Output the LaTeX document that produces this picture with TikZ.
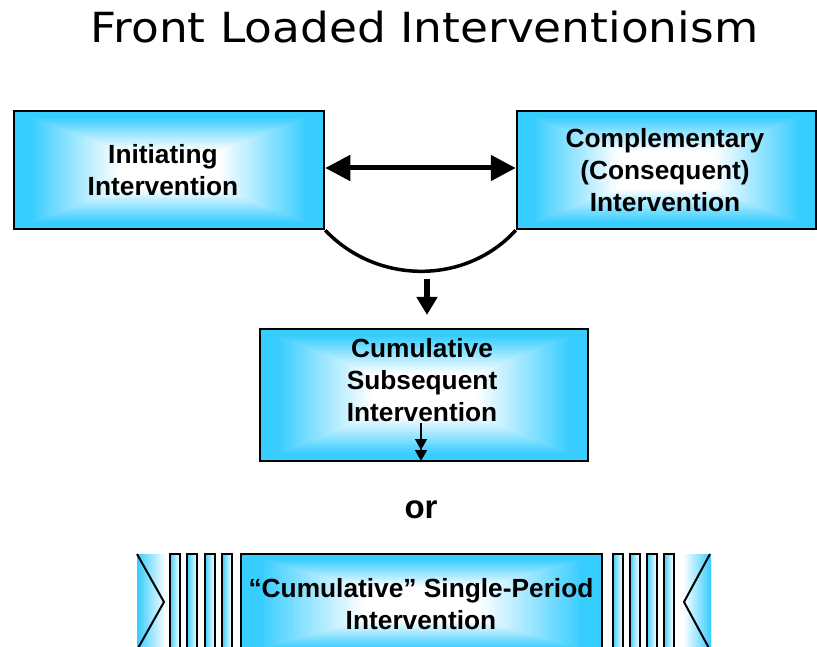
\documentclass[tikz,border=0pt]{standalone}
\usepackage{fontspec}
\setmainfont{Liberation Sans}
\newfontfamily\titlefont{DejaVu Sans}
\usetikzlibrary{arrows.meta,calc}
\definecolor{cy}{RGB}{56,205,255}
\tikzset{
  gfill/.style={path picture={
    \foreach \i in {0,...,50} {
      \pgfmathsetmacro\ff{1-\i/50}
      \pgfmathsetmacro\pp{max(0,min(100,(\ff-0.33)/0.57*100))}
      \fill[cy!\pp!white] ($(path picture bounding box.center)!\ff!(path picture bounding box.north west)$) rectangle ($(path picture bounding box.center)!\ff!(path picture bounding box.south east)$);
    }
  }},
  gbox/.style={draw=black, line width=2.5pt, inner sep=0pt, fill=white, gfill},
  btxt/.style={align=center, font=\fontsize{26.3}{32}\selectfont\bfseries},
  bar/.style={draw=black, line width=2pt, left color=cy, right color=white},
  bigtip/.tip={Triangle[length=25pt,width=25pt]},
}
\begin{document}
\begin{tikzpicture}[x=1pt,y=-1pt]
\clip (0,0) rectangle (817,647);
\fill[white] (0,0) rectangle (817,647);
% title
\node[anchor=base, font=\titlefont\fontsize{41.5}{48}\selectfont] (title) at (424.5,43) {\scalebox{1.095}[1]{Front Loaded Interventionism}};
% boxes
\node[gbox, minimum width=310pt, minimum height=118pt] (b1) at (169,170) {};
\node[gbox, minimum width=299pt, minimum height=118pt] (b2) at (666.5,170) {};
\node[gbox, minimum width=328pt, minimum height=132pt] (b3) at (424,395) {};
\node[gbox, minimum width=361pt, minimum height=100pt] (b4) at (421.5,604) {};
% texts
\node[btxt] (t1) at (163,170.5) {Initiating\\Intervention};
\node[btxt] (t2) at (665,170) {Complementary\\(Consequent)\\Intervention};
\node[btxt] (t3) at (422,380) {Cumulative\\Subsequent\\Intervention};
\node[btxt] (t4) at (421,604) {“Cumulative” Single-Period\\Intervention};
\node[font=\fontsize{33}{40}\selectfont\bfseries] (or) at (421,510) {or};
% arrows
\draw[line width=5pt, bigtip-bigtip] ([yshift=2pt]b1.east) -- ([yshift=2pt]b2.west);
\draw[line width=3.5pt] (b1.south east) .. controls (377,285) and (466,285) .. (b2.south west);
\coordinate (d1) at (427,279);
\coordinate (d2) at (427,315);
\draw[line width=6pt, -{Triangle[length=18pt,width=20pt]}] (d1) -- (d2);
\coordinate (s1) at (421,423);
\coordinate (s2) at (421,461);
\draw[line width=1.5pt, -{Triangle[length=11pt,width=12pt]Triangle[length=11pt,width=12pt]}] (s1) -- (s2);
% bars
\foreach \xa in {169.5,187,204.5,222,612.5,629.5,646.5,663.5}
  \draw[bar] (\xa,554) rectangle (\xa+10,660);
% chevrons
\shade[left color=cy, right color=white] (137,554) rectangle (166,660);
\draw[line width=2pt] (137,554) -- (164,602) -- (137,650);
\shade[left color=white, right color=cy] (683,554) rectangle (711,660);
\draw[line width=2pt] (710,554) -- (684,602) -- (710,650);
\end{tikzpicture}
\end{document}
